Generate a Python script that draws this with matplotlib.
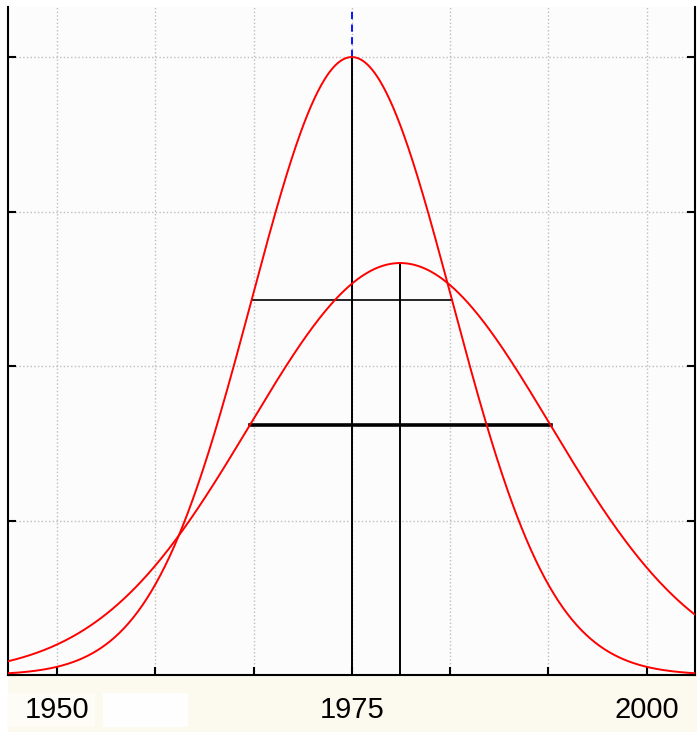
import numpy as np
import matplotlib.pyplot as plt
from matplotlib.patches import Rectangle
from matplotlib.transforms import ScaledTranslation

# two normal curves (same area): mean year and standard deviation
means = [1975.0, 1979.1]
sigmas = [8.5, 12.75]
sigma_line_widths = [1.2, 2.6]

x_ticks = [1950, 1958.33, 1966.67, 1975, 1983.33, 1991.67, 2000]
x_labels = ['1950', '', '', '1975', '', '', '2000']
x_range = [1945.85, 2004.1]


def gauss(x, mu, sd):
    return np.exp(-0.5 * ((x - mu) / sd) ** 2) / (sd * np.sqrt(2 * np.pi))


W, H = 697, 732
fig = plt.figure(figsize=(W / 100, H / 100), dpi=100, facecolor='white')
# beige band under the plot with the year labels, plus the two light boxes
fig.patches.append(Rectangle((8 / W, 0), 1, 57 / H, transform=fig.transFigure,
                             facecolor='#fcf9ee', edgecolor='none', zorder=-3))
fig.patches.append(Rectangle((7 / W, 5 / H), 88 / W, 34 / H, transform=fig.transFigure,
                             facecolor='#fdfcf6', edgecolor='none', zorder=-2))
fig.patches.append(Rectangle((103 / W, 5 / H), 85 / W, 34 / H, transform=fig.transFigure,
                             facecolor='#fefefe', edgecolor='none', zorder=-1))

ax = fig.add_axes([8 / W, 57 / H, 687 / W, 668 / H])
ax.set_facecolor('#fcfcfc')

xs = np.linspace(x_range[0], x_range[1], 600)
peak_tall = gauss(means[0], means[0], sigmas[0])

for mu, sd, lw in zip(means, sigmas, sigma_line_widths):
    ax.plot(xs, gauss(xs, mu, sd), color='red', lw=1.4, zorder=3)
    top = gauss(mu, mu, sd)
    ax.plot([mu, mu], [0, top], color='black', lw=1.4, zorder=2)
    h = gauss(mu + sd, mu, sd)
    ax.plot([mu - sd, mu + sd], [h, h], color='black', lw=lw, zorder=2)

ax.set_ylim(0, peak_tall * 1.081)
ax.plot([means[0], means[0]], [peak_tall, peak_tall * 1.081], color='blue',
        lw=1.3, ls=(0, (4, 3)), zorder=2)

ax.set_xlim(x_range)
ax.set_xticks(x_ticks)
ax.set_xticklabels(x_labels, family=['Liberation Sans', 'DejaVu Sans'], fontsize=21)
# the first year label sits a little left of its tick
lab0 = ax.get_xticklabels()[0]
lab0.set_transform(lab0.get_transform() + ScaledTranslation(-0.05, 0, fig.dpi_scale_trans))
ax.set_yticks(np.linspace(0, peak_tall, 5))
ax.set_yticklabels([])
ax.tick_params(axis='x', direction='in', length=6, width=1.5, pad=15)
ax.tick_params(axis='y', direction='in', length=6, width=1.5, left=True, right=True)
ax.grid(True, color='#bdbdbd', ls=':', lw=1)
ax.set_axisbelow(True)
ax.spines['top'].set_visible(False)
for s in ['left', 'right', 'bottom']:
    ax.spines[s].set_linewidth(1.5)

fig.savefig('out.png', dpi=100, facecolor=fig.get_facecolor())
